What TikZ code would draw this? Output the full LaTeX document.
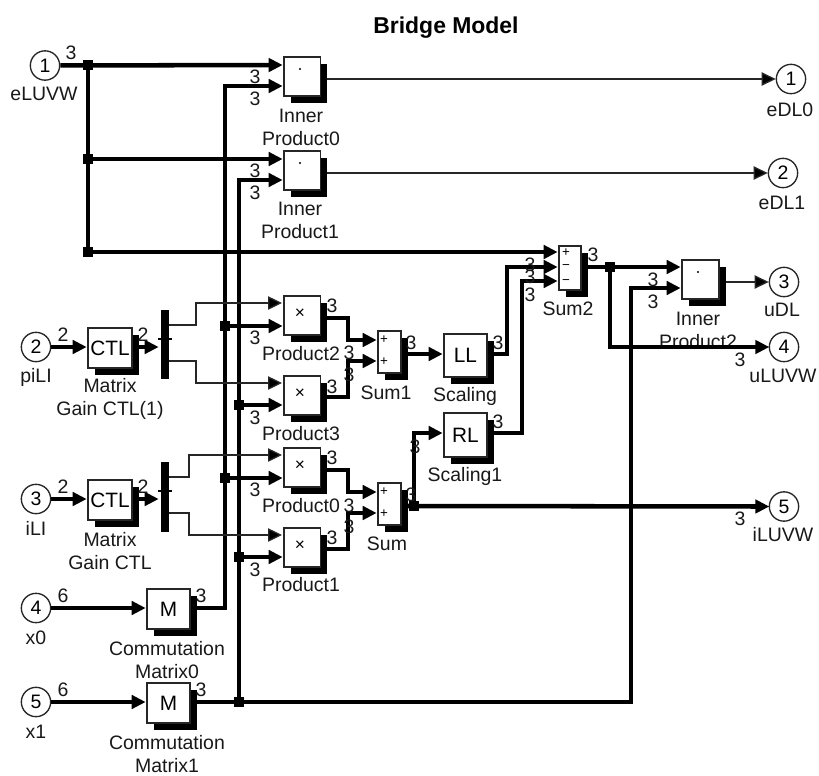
\documentclass[tikz,border=0pt]{standalone}
\usepackage{fontspec}
\setmainfont{Liberation Sans}
\usetikzlibrary{arrows.meta}
\tikzset{
  lbl/.style={inner sep=0pt,font=\fontsize{14.6pt}{17.25pt}\selectfont,align=center,text=black!90},
  sym/.style={inner sep=0pt,font=\fontsize{10pt}{12pt}\selectfont},
  port/.style={draw=black!85,line width=1pt,circle,minimum size=22pt,inner sep=0pt,fill=white,font=\fontsize{14.6pt}{17pt}\selectfont},
  blk/.style={draw=black!85,line width=1pt,fill=white,inner sep=0pt,font=\fontsize{15.6pt}{17pt}\selectfont},
  shad/.style={fill=black,draw=none},
  bus/.style={line width=3.4pt,-{Triangle[length=10.5pt,width=10pt]},shorten >=-0.5pt},
  busn/.style={line width=3.4pt},
  sig/.style={line width=1pt,draw=black!85,-{Triangle[length=10.5pt,width=10pt,fill=black]}},
  dot/.style={fill=black,inner sep=0pt,minimum size=7.5pt,draw=none},
  tick/.style={line width=.8pt}
}
\newcommand{\blockbox}[6]{% name, x1,y1,x2,y2, text
  \fill[shad] (#2+6.5,#3+6.5) rectangle (#4+6.5,#5+6.5);
  \node[blk,minimum width={(#4-#2)*0.75pt},minimum height={(#5-#3)*0.75pt}] (#1) at ({(#2+#4)/2},{(#3+#5)/2}) {#6};
}
\begin{document}
\begin{tikzpicture}[x=0.75pt,y=-0.75pt]
\useasboundingbox (0,0) rectangle (819,776);
\fill[white] (0,0) rectangle (819,776);
% text that lies under connectors
\node[lbl] (lIP2) at (698,330) {Inner\\Product2};
% blocks
\blockbox{ip0}{284}{57}{320.5}{96}{}
\blockbox{ip1}{284}{151}{320.5}{190}{}
\blockbox{ip2}{682}{260}{719}{299}{}
\blockbox{pr2}{284}{296}{320.5}{335}{}
\blockbox{pr3}{284}{376}{320.5}{415}{}
\blockbox{pr0}{284}{448}{320.5}{487}{}
\blockbox{pr1}{284}{528}{320.5}{567}{}
\blockbox{s1}{378}{331}{401}{373}{}
\blockbox{s0}{378}{483}{401}{525}{}
\blockbox{s2}{559}{246}{581}{290}{}
\blockbox{ll}{444}{334}{487}{377}{LL}
\blockbox{rl}{444}{413}{487}{457}{RL}
\blockbox{c1}{88}{328}{132}{368}{CTL}
\blockbox{c0}{88}{480}{132}{520}{CTL}
\blockbox{m0}{147}{589}{190}{629}{M}
\blockbox{m1}{147}{683}{190}{723}{M}
\node[fill=black,inner sep=0pt,minimum width=6.2pt,minimum height=52pt] (mx1) at (165,344.5) {};
\node[fill=black,inner sep=0pt,minimum width=6.2pt,minimum height=52pt] (mx0) at (165,497) {};
% ports
\node[port] (in1) at (45,65.5) {1};
\node[port] (in2) at (36,347) {2};
\node[port] (in3) at (36,499) {3};
\node[port] (in4) at (36,608) {4};
\node[port] (in5) at (36,702) {5};
\node[port] (out1) at (791,79) {1};
\node[port] (out2) at (783,173) {2};
\node[port] (out3) at (784,282) {3};
\node[port] (out4) at (784,347) {4};
\node[port] (out5) at (784,506.5) {5};
% named junctions and bends
\foreach \n/\x/\y in {j1/88/65,j2/88/159,j3/88/252,
  ja/225/326,jb/239/405,jc/225/478,jd/239/557,je/239/702,
  jf/610/267,jg/414/506}{
  \node[dot] (\n) at (\x,\y) {};
}
\foreach \n/\x/\y in {
  tip0a/282/65,tip0b/282/86,tip1a/282/159,tip1b/282/180,
  tip2a/680/267,tip2b/680/288,
  tp2a/282/303,tp2b/282/326,tp3a/282/383,tp3b/282/405,
  tp0a/282/455,tp0b/282/478,tp1a/282/535,tp1b/282/557,
  ts1a/376/340,ts1b/376/361,ts0a/376/492,ts0b/376/513,
  ts2a/557/252,ts2b/557/267,ts2c/557/281,
  tll/442/354,trl/442/433,
  tc1/86/347,tc0/86/499,tmx1/158/347,tmx0/158/499,tm0/145/608,tm1/145/702,
  o1/327/79,o2/327/173,o3/726/282,
  cp2/327/318,cp3/327/397,cp0/327/470,cp1/327/549,
  cs1/408/354,cs0/408/506,cs2/588/267,cll/493/354,crl/493/433,
  cc1/138/347,cc0/138/499,cm0/197/608,cm1/197/702,
  a1t/225/86,a1b/225/608,a2t/239/180,
  m1a/169/325,m1b/169/361,m0a/169/477,m0b/169/513,
  tka/158/339,tkb/172/339,tkc/158/491,tkd/172/491}{
  \coordinate (\n) at (\x,\y);
}
% thick connectors
\draw[bus] (in1) -- (tip0a);
\draw[busn] (j1) -- (j3);
\draw[bus] (j2) -- (tip1a);
\draw[bus] (j3) -- (ts2a);
\draw[bus] (cm1) -- (je) -- (631,702) -- (631,288) -- (tip2b);
\draw[bus] (cm0) -- (a1b) -- (a1t) -- (tip0b);
\draw[bus] (je) -- (a2t) -- (tip1b);
\draw[bus] (ja) -- (tp2b);
\draw[bus] (jb) -- (tp3b);
\draw[bus] (jc) -- (tp0b);
\draw[bus] (jd) -- (tp1b);
\draw[bus] (cp2) -- (348,318) -- (348,340) -- (ts1a);
\draw[bus] (cp3) -- (348,397) -- (348,361) -- (ts1b);
\draw[bus] (cp0) -- (348,470) -- (348,492) -- (ts0a);
\draw[bus] (cp1) -- (348,549) -- (348,513) -- (ts0b);
\draw[bus] (cs1) -- (tll);
\draw[bus] (cs0) -- (jg) |- (trl);
\draw[bus] (cll) -- (507,354) -- (507,267) -- (ts2b);
\draw[bus] (crl) -- (522,433) -- (522,281) -- (ts2c);
\draw[bus] (cs2) -- (tip2a);
\draw[bus] (jf) |- (out4.west);
\draw[bus] (in2) -- (tc1);
\draw[bus] (in3) -- (tc0);
\draw[bus] (cc1) -- (tmx1);
\draw[bus] (cc0) -- (tmx0);
\draw[bus] (in4) -- (tm0);
\draw[bus] (in5) -- (tm1);
% thin connectors
\draw[sig] (o1) -- (out1.west);
\draw[sig] (o2) -- (out2.west);
\draw[sig] (o3) -- (out3.west);
\draw[sig] (m1a) -- (196,325) -- (196,303) -- (tp2a);
\draw[sig] (m1b) -- (196,361) -- (196,383) -- (tp3a);
\draw[sig] (m0a) -- (189,477) -- (189,455) -- (tp0a);
\draw[sig] (m0b) -- (189,513) -- (189,535) -- (tp1a);
\draw[tick] (tka) -- (tkb);
\draw[tick] (tkc) -- (tkd);
\draw[bus] (cs0) -- (out5.west);
% block symbols
\foreach \n/\x/\y in {dIP0/300/69,dIP1/300/163,dIP2/698/272}{
  \fill (\x,\y) circle (0.9pt);
  \coordinate (\n) at (\x,\y);
}
\foreach \n/\x/\y in {xa/300/314,xb/300/394,xc/300/466,xd/300/546}{
  \node[inner sep=0pt,font=\fontsize{13pt}{15pt}\selectfont] (\n) at (\x,\y) {×};
}
\foreach \n/\x/\y/\t in {pa/384/340/+,pb/384/362/+,pc/384/492/+,pd/384/514/+,pe/566/253/+,pf/566/267/−,pg/566/282/−}{
  \node[sym] (\n) at (\x,\y) {\t};
}
% title and labels
\node[inner sep=0pt,font=\fontsize{17.2pt}{19pt}\selectfont\bfseries] (title) at (446,28) {Bridge Model};
\foreach \n/\x/\y/\t in {
 la/44/94/eLUVW,lb/36/377/piLI,lc/36/528/iLI,ld/36/638/x0,le/36/732/x1,
 lf/790/110/eDL0,lg/782/203/eDL1,lh/782/310/uDL,li/783/376/uLUVW,lj/783/535/iLUVW,
 lk/301/354/Product2,ll2/301/434/Product3,lm/301/506/Product0,ln/301/585/Product1,
 lo/386/393/Sum1,lp/387/544/Sum,lq/568/309/Sum2,lr/465/396/Scaling,ls/465/476/Scaling1}{
  \node[lbl] (\n) at (\x,\y) {\t};
}
\node[lbl] (l1) at (301,127) {Inner\\Product0};
\node[lbl] (l2) at (300,220) {Inner\\Product1};
\node[lbl] (l3) at (110,399) {Matrix\\Gain CTL(1)};
\node[lbl] (l4) at (110,551) {Matrix\\Gain CTL};
\node[lbl] (l5) at (167,660) {Commutation\\Matrix0};
\node[lbl] (l6) at (167,754) {Commutation\\Matrix1};
% width labels
\foreach \x/\y/\t [count=\i] in {
 71/53/3,255/77/3,255/99/3,255/171/3,255/193/3,
 332/306/3,255/338/3,332/387/3,255/418/3,332/458/3,255/490/3,332/538/3,255/570/3,
 349/353/3,349/375/3,349/506/3,349/527/3,411/343/3,411/495/3,415/447/3,
 498/343/3,498/422/3,530/265/3,530/277/3,530/295/3,593/255/3,653/280/3,653/302/3,
 740/360/3,740/519/3,201/596/3,201/690/3,
 63/335/2,143/335/2,63/487/2,143/487/2,63/596/6,63/690/6}{
  \node[lbl] (w\i) at (\x,\y) {\t};
}
\end{tikzpicture}
\end{document}
